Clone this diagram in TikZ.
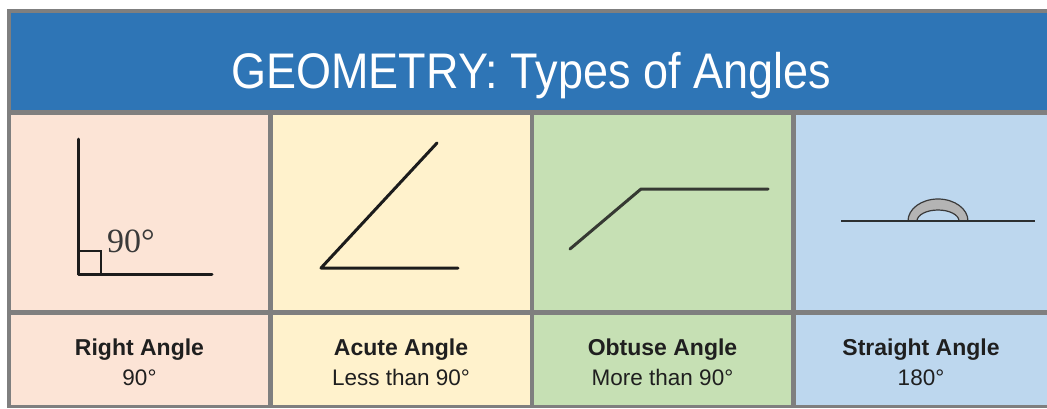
\documentclass[tikz,border=0pt]{standalone}
\usepackage{fontspec}
\setmainfont{Liberation Sans}
\newfontfamily\titlefont[FakeStretch=0.9]{Liberation Sans}
\newfontfamily\numfont{Liberation Serif}
\usetikzlibrary{positioning}

\definecolor{headblue}{HTML}{2E75B6}
\definecolor{framegray}{HTML}{7F7F7F}
\definecolor{rightbg}{HTML}{FCE4D6}
\definecolor{acutebg}{HTML}{FFF2CC}
\definecolor{obtusebg}{HTML}{C6E0B4}
\definecolor{straightbg}{HTML}{BDD7EE}
\definecolor{linedark}{HTML}{1C1C1C}
\definecolor{labeltext}{HTML}{1F1F1F}
\definecolor{arcgray}{HTML}{B4B4B4}
\definecolor{arcedge}{HTML}{3A3A3A}

\begin{document}
\begin{tikzpicture}[x=1pt, y=-1pt,
    cell/.style={inner sep=0pt, outer sep=0pt, minimum width=257pt, anchor=north west},
    toprow/.style={cell, minimum height=195pt},
    botrow/.style={cell, minimum height=90pt},
    angleline/.style={draw=linedark, line width=3pt, line cap=round, line join=round},
    nametxt/.style={font=\fontsize{23}{27}\selectfont\bfseries, text=labeltext, anchor=base},
    valtxt/.style={font=\fontsize{22.5}{27}\selectfont, text=labeltext, anchor=base}]

    \useasboundingbox (0,0) rectangle (1047,408);
    \fill[white] (0,0) rectangle (1047,408);
    \fill[framegray] (7,9) rectangle (1047,408);

    \node[cell, fill=headblue, minimum width=1036pt, minimum height=97pt] (head) at (11,13) {};
    \node[anchor=base, text=white, font=\titlefont\fontsize{50}{60}\selectfont] (title) at (531,88) {GEOMETRY: Types of Angles};

    \node[toprow, fill=rightbg] (t1) at (11,115) {};
    \node[toprow, fill=acutebg, right=4.5pt of t1] (t2) {};
    \node[toprow, fill=obtusebg, right=4.5pt of t2] (t3) {};
    \node[toprow, fill=straightbg, right=4.5pt of t3] (t4) {};

    \node[botrow, fill=rightbg, below=4.5pt of t1] (b1) {};
    \node[botrow, fill=acutebg, below=4.5pt of t2] (b2) {};
    \node[botrow, fill=obtusebg, below=4.5pt of t3] (b3) {};
    \node[botrow, fill=straightbg, below=4.5pt of t4] (b4) {};

    \node[nametxt] (n1) at ([yshift=-41pt]b1.north) {Right Angle};
    \node[valtxt] (v1) at ([yshift=-71pt]b1.north) {90°};
    \node[nametxt] (n2) at ([yshift=-41pt]b2.north) {Acute Angle};
    \node[valtxt] (v2) at ([yshift=-71pt]b2.north) {Less than 90°};
    \node[nametxt] (n3) at ([yshift=-41pt]b3.north) {Obtuse Angle};
    \node[valtxt] (v3) at ([yshift=-71pt]b3.north) {More than 90°};
    \node[nametxt] (n4) at ([xshift=-3pt,yshift=-41pt]b4.north) {Straight Angle};
    \node[valtxt] (v4) at ([xshift=-3pt,yshift=-71pt]b4.north) {180°};

    \coordinate (ra-top) at (78,139);
    \coordinate (ra-v) at (78,274);
    \coordinate (ra-end) at (212,274);
    \draw[angleline] (ra-top) -- (ra-v) -- (ra-end);
    \draw[draw=linedark, line width=2pt] (ra-v) rectangle ++(23,-23);
    \node[anchor=base west, inner sep=0pt, text=arcedge, font=\numfont\fontsize{34}{40}\selectfont] (ra-lbl) at (107,252) {90°};

    \coordinate (ac-top) at (437,143);
    \coordinate (ac-v) at (321,268);
    \coordinate (ac-end) at (458,268);
    \draw[angleline] (ac-top) -- (ac-v) -- (ac-end);

    \coordinate (ob-low) at (570,249);
    \coordinate (ob-v) at (641,189);
    \coordinate (ob-end) at (768,189);
    \draw[angleline, draw=linedark!85!obtusebg] (ob-low) -- (ob-v) -- (ob-end);

    \coordinate (st-left) at (841,221);
    \coordinate (st-v) at (938,221);
    \coordinate (st-right) at (1035,221);
    \filldraw[fill=arcgray, draw=arcedge, line width=1.2pt] ([xshift=-30pt]st-v)
        arc[start angle=180, end angle=0, x radius=30pt, y radius=22pt]
        -- ([xshift=21pt]st-v)
        arc[start angle=0, end angle=180, x radius=21pt, y radius=11pt] -- cycle;
    \draw[draw=linedark!90!straightbg, line width=2.6pt] (st-left) -- (st-right);
\end{tikzpicture}
\end{document}
